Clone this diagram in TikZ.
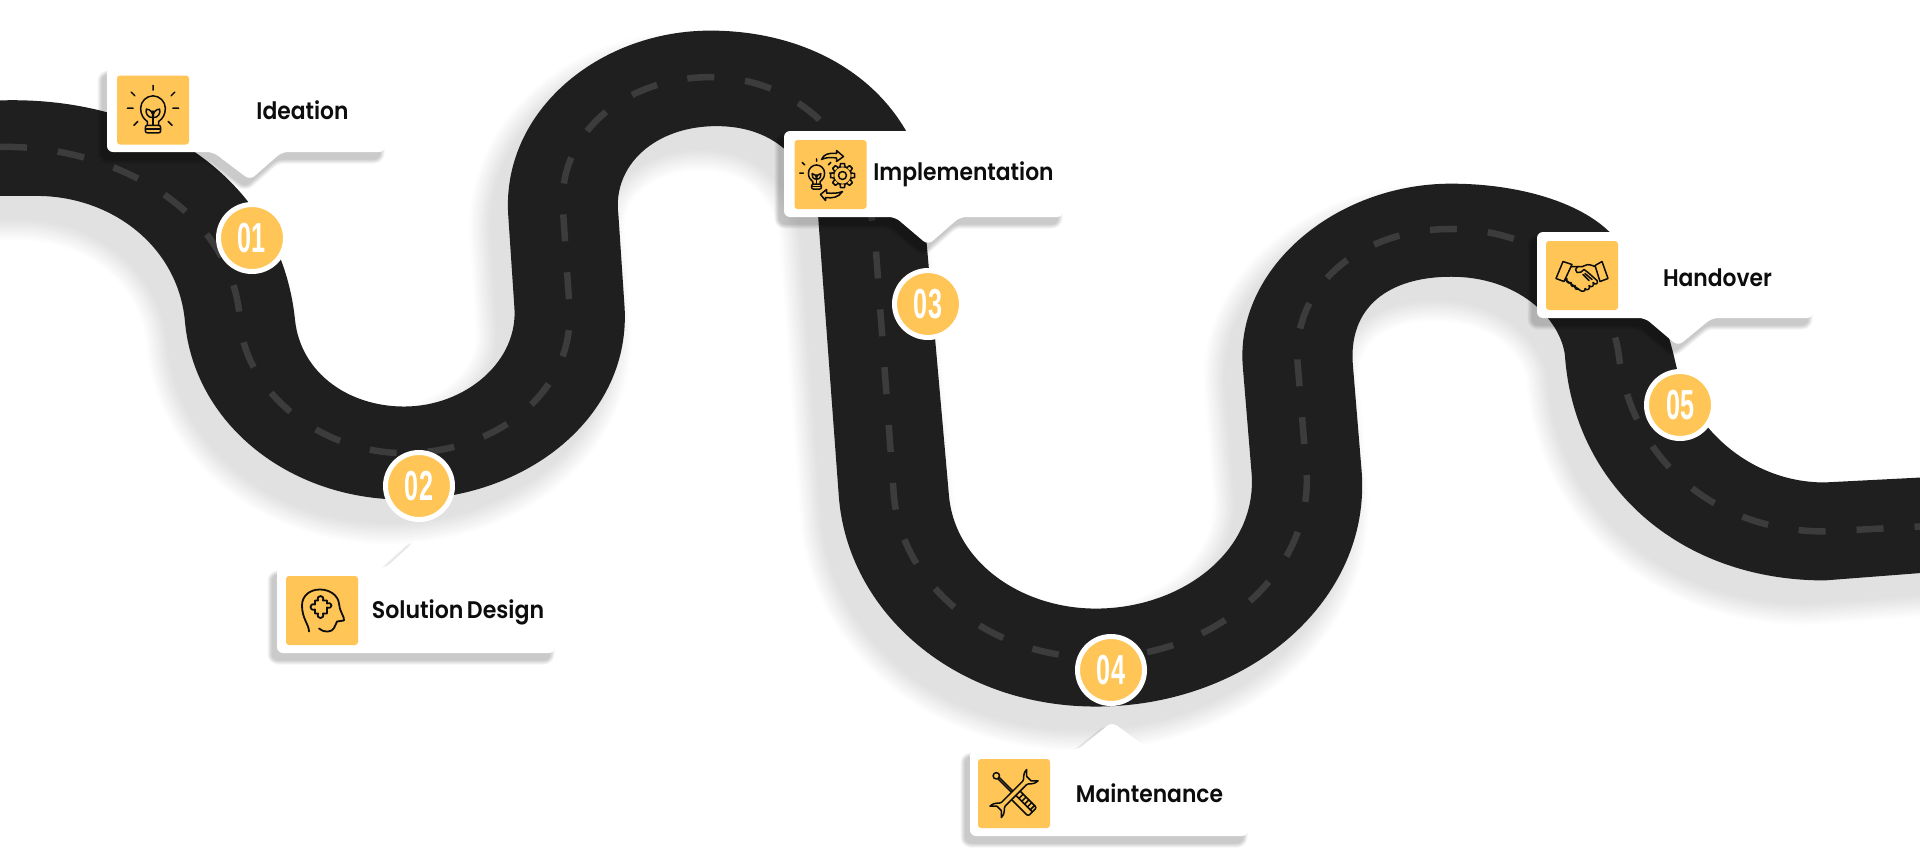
\documentclass[tikz,border=0pt]{standalone}
\usepackage{fontspec}
\setmainfont{Liberation Sans}
\newfontfamily\labfont{Poppins SemiBold}
\definecolor{roadc}{HTML}{1F1F1F}
\definecolor{dashc}{HTML}{3C3C3C}
\definecolor{yel}{HTML}{FFC556}
\definecolor{ink}{HTML}{0D0D0D}
\newcommand{\roadpath}{
 (-40,83) -- (0,82) .. controls (130,78) and (230,150) .. (241,262)
 .. controls (246,305) and (285,332) .. (330,332)
 .. controls (380,332) and (424,295) .. (420,250) -- (415,175)
 .. controls (410,90) and (490,25) .. (580,25)
 .. controls (650,25) and (710,55) .. (740,107)
 .. controls (748,122) and (750,130) .. (752,145) -- (775,405)
 .. controls (780,460) and (835,497) .. (895,497)
 .. controls (965,497) and (1028,450) .. (1022,385) -- (1015,300)
 .. controls (1008,220) and (1090,150) .. (1185,150)
 .. controls (1240,150) and (1290,165) .. (1315,190)
 .. controls (1345,220) and (1360,260) .. (1368,295)
 .. controls (1380,350) and (1430,394) .. (1490,394)
 -- (1568,390) -- (1620,387) -- (1620,465) -- (1568,468) -- (1490,474)
 .. controls (1370,474) and (1285,395) .. (1278,290)
 .. controls (1274,260) and (1240,226) .. (1185,226)
 .. controls (1135,226) and (1100,250) .. (1105,300) -- (1112,385)
 .. controls (1120,490) and (1020,577) .. (895,577)
 .. controls (780,577) and (692,500) .. (685,405) -- (668,175)
 .. controls (666,155) and (650,103) .. (585,103)
 .. controls (535,103) and (500,135) .. (505,175) -- (510,250)
 .. controls (516,340) and (430,408) .. (330,408)
 .. controls (235,408) and (158,345) .. (151,262)
 .. controls (145,200) and (90,160) .. (30,160) -- (-40,160) -- cycle}
\newcommand{\callout}[1]{
 \foreach \w in {9,7,5,3,1}{
  \begin{scope}[shift={(-5,7)},transparency group,opacity=.045]
   \path[fill=black,draw=black,line width=\w pt,rounded corners=6pt,line join=round] #1;
  \end{scope}}
 \path[fill=white,rounded corners=6pt] #1;}
\newcommand{\bulb}{
 \draw[ico] (-6,14) -- (-6,10) .. controls (-10,7) and (-13,3) .. (-13,-4)
  .. controls (-13,-11) and (-7,-17) .. (0,-17) .. controls (7,-17) and (13,-11) .. (13,-4)
  .. controls (13,3) and (10,7) .. (6,10) -- (6,14);
 \draw[ico,rounded corners=2pt] (-8,14) -- (8,14) -- (8,22) -- (-8,22) -- cycle;
 \draw[ico] (-8,18) -- (8,18) (0,14) -- (0,-1);
 \draw[ico] (0,6) .. controls (-6,6) and (-8,1) .. (-7,-3) .. controls (-3,-3) and (0,0) .. (0,6);
 \draw[ico] (0,6) .. controls (6,6) and (8,1) .. (7,-3) .. controls (3,-3) and (0,0) .. (0,6);}
\tikzset{
 ico/.style={draw=ink,line width=1.5pt,line cap=round,line join=round},
 iconbox/.style={fill=yel,rounded corners=3pt,minimum width=72pt,minimum height=69pt,inner sep=0pt},
 badge/.style={circle,fill=yel,draw=white,line width=5pt,minimum size=67pt,inner sep=0pt,text=white,font=\fontsize{42}{42}\selectfont\bfseries},
 lab/.style={inner sep=0pt,text=ink,font=\fontsize{24}{28}\labfont}
}
\newcommand{\numb}[1]{\scalebox{0.6}[1]{#1}}
\begin{document}
\begin{tikzpicture}[x=1pt,y=-1pt]
\useasboundingbox (0,0) rectangle (1920,849);
\fill[white] (0,0) rectangle (1920,849);
\clip (0,0) rectangle (1920,849);
% road shadow
\foreach \i in {1,...,14}{
 \pgfmathsetmacro{\wd}{(15-\i)*3.2}
 \pgfmathsetmacro{\pc}{\i*0.85}
 \begin{scope}[shift={(-16,22)},scale=1.2245]
  \path[fill=black!\pc,draw=black!\pc,line width=\wd pt,line join=round] \roadpath;
 \end{scope}}
% road
\begin{scope}[scale=1.2245]
 \path[fill=roadc] \roadpath;
 \draw[dashc,line width=6.5pt,dash pattern=on 27pt off 31pt]
  (0,120) .. controls (90,118) and (190,170) .. (196,262)
  .. controls (200,320) and (262,370) .. (330,370)
  .. controls (405,370) and (470,320) .. (465,250) -- (460,175)
  .. controls (453,110) and (510,63) .. (580,63)
  .. controls (650,63) and (708,115) .. (715,200) -- (730,405)
  .. controls (737,480) and (810,537) .. (895,537)
  .. controls (990,537) and (1072,470) .. (1067,385) -- (1060,300)
  .. controls (1053,235) and (1110,187) .. (1185,187)
  .. controls (1260,187) and (1315,235) .. (1322,290)
  .. controls (1332,375) and (1400,434) .. (1490,434) -- (1568,430);
\end{scope}
% callouts
\callout{(107,68) -- (385,68) -- (385,152) -- (282,152) -- (250,180) -- (213,152) -- (107,152) -- cycle}
\callout{(277,568) -- (385,568) -- (418,538) -- (455,568) -- (555,568) -- (555,653) -- (277,653) -- cycle}
\callout{(784,131) -- (1063,131) -- (1063,217) -- (960,217) -- (928,245) -- (895,217) -- (784,217) -- cycle}
\callout{(970,750) -- (1077,750) -- (1112,722) -- (1150,750) -- (1248,750) -- (1248,836) -- (970,836) -- cycle}
\callout{(1537,232) -- (1813,232) -- (1813,318) -- (1712,318) -- (1678,346) -- (1645,318) -- (1537,318) -- cycle}
% icon squares
\node[iconbox] (iconone) at (153,110) {};
\node[iconbox] (icontwo) at (322,610.5) {};
\node[iconbox] (iconthree) at (830.5,174.5) {};
\node[iconbox] (iconfour) at (1014,793.5) {};
\node[iconbox] (iconfive) at (1582,275.5) {};
% labels
\node[lab] (labone) at (302.5,110) {\scalebox{0.91}[1]{Ideation}};
\node[lab] (labtwo) at (458,612) {\scalebox{0.92}[1]{Solution\hspace{-2pt} Design}};
\node[lab] (labthree) at (963.5,174) {\scalebox{0.91}[1]{Implementation}};
\node[lab] (labfour) at (1149.5,793) {\scalebox{0.91}[1]{Maintenance}};
\node[lab] (labfive) at (1717.5,278) {\scalebox{0.91}[1]{Handover}};
% icon 1
\begin{scope}[shift={(153,112)},scale=0.95]
 \bulb
 \draw[ico] (0,-23) -- (0,-28) (-19,-17) -- (-23,-21) (19,-17) -- (23,-21)
  (-21,-4) -- (-27,-4) (21,-4) -- (27,-4) (-16,10) -- (-20,14) (16,10) -- (20,14);
\end{scope}
% icon 2
\begin{scope}[shift={(322,610.5)}]
 \draw[ico,line width=1.8pt] (-13,21) .. controls (-13,14) and (-20,8) .. (-20,-5)
  .. controls (-20,-15) and (-12,-21) .. (-2,-21)
  .. controls (8,-21) and (16,-15) .. (17,-7) .. controls (17,0) and (23,7) .. (22,10)
  -- (15,11) .. controls (13,15) and (12,21) .. (6,21) .. controls (2,21) and (-1,20) .. (-3,18);
 \draw[ico,line width=1.8pt] (-7,-10) -- (-4,-10) .. controls (-6,-16) and (3,-16) .. (1,-10) -- (5,-10) -- (5,-7)
  .. controls (11,-9) and (11,-1) .. (5,-3) -- (5,3) -- (1,3) .. controls (3,9) and (-6,9) .. (-4,3) -- (-7,3) -- (-7,-1)
  .. controls (-13,1) and (-13,-8) .. (-7,-6) -- cycle;
\end{scope}
% icon 3
\begin{scope}[shift={(830.5,174.5)}]
 \begin{scope}[shift={(-14,1)},scale=0.62]
  \bulb
  \draw[ico] (-19,-17) -- (-23,-21) (19,-17) -- (23,-21) (-21,-4) -- (-27,-4) (21,-4) -- (27,-4) (0,-23) -- (0,-27);
 \end{scope}
 \begin{scope}[shift={(12,1)}]
  \draw[ico] (0,0) circle[radius=9];
  \draw[ico] (0,0) circle[radius=4];
  \foreach \a in {0,45,...,315}{
   \begin{scope}[rotate=\a]
    \path[fill=yel,ico] (-2.5,-8.8) -- (-2,-12) -- (2,-12) -- (2.5,-8.8);
   \end{scope}}
 \end{scope}
 \draw[ico] (-9,-15) .. controls (-7,-20) and (-2,-22) .. (6,-21) -- (6,-24) -- (13,-18) -- (6,-13) -- (6,-16.5) .. controls (0,-17.5) and (-5,-17) .. (-9,-15) -- cycle;
 \draw[ico] (12,17) .. controls (8,23) and (2,24) .. (-5,23) -- (-5,26) -- (-10,20) -- (-4,15) -- (-4,18.5) .. controls (2,19) and (7,19) .. (12,17) -- cycle;
\end{scope}
% icon 4
\begin{scope}[shift={(1014,793.5)}]
 \begin{scope}[rotate=-45]
  \draw[ico] (-25,0) circle[radius=3.2];
  \draw[ico] (-22,-1) -- (1,-1) (-22,1) -- (1,1);
  \draw[ico,rounded corners=2pt] (1,-6) -- (26,-6) -- (26,6) -- (1,6) -- cycle;
  \draw[ico] (7,-6) -- (7,0) (11,-6) -- (11,0) (15,-6) -- (15,0) (19,-6) -- (19,0) (23,-6) -- (23,0);
  \draw[ico] (1,0) -- (26,0);
 \end{scope}
 \begin{scope}[rotate=45]
  \path[fill=yel,ico] (-15,-2.6) -- (15,-2.6) .. controls (18,-2.6) and (19,-8) .. (26,-8) -- (21,-3) -- (21,3) -- (26,8)
   .. controls (19,8) and (18,2.6) .. (15,2.6) -- (-15,2.6) .. controls (-18,2.6) and (-19,8) .. (-26,8) -- (-21,3) -- (-21,-3) -- (-26,-8)
   .. controls (-19,-8) and (-18,-2.6) .. (-15,-2.6) -- cycle;
 \end{scope}
\end{scope}
% icon 5
\begin{scope}[shift={(1582,275.5)}]
 \draw[ico] (-19,-14) -- (-26,3) -- (-18,6) -- (-10,-11) -- cycle;
 \draw[ico] (20,-14) -- (26,3) -- (18,6) -- (13,-10) -- cycle;
 \draw[ico] (-11,-9) -- (-4,-9) .. controls (-1,-8) and (1,-9) .. (3,-10) .. controls (6,-12) and (10,-10) .. (13,-9);
 \draw[ico] (-4,-9) .. controls (-7,-7) and (-7,-4) .. (-5,-3) .. controls (-2,-2) and (0,-4) .. (2,-6)
  -- (6,-3) -- (15,5) .. controls (17,8) and (13,10) .. (11,7) (11,7) .. controls (13,10) and (9,13) .. (7,10)
  (7,10) .. controls (9,13) and (5,16) .. (3,13) (3,13) .. controls (4,16) and (0,17) .. (-3,14);
 \draw[ico] (-17,4) -- (-3,14);
 \draw[ico] (-15,3) .. controls (-17,6) and (-13,9) .. (-11,7) (-11,7) .. controls (-12,11) and (-8,12) .. (-7,10) (-7,10) .. controls (-8,13) and (-5,15) .. (-3,14);
 \draw[ico] (1,-1) -- (7,5) (3,-2) -- (10,4) ;
\end{scope}
% badges
\node[badge] (badgeone) at (252,238) {\numb{01}};
\node[badge] (badgetwo) at (419,486) {\numb{02}};
\node[badge] (badgethree) at (928,304) {\numb{03}};
\node[badge] (badgefour) at (1111,670) {\numb{04}};
\node[badge] (badgefive) at (1680,405) {\numb{05}};
\end{tikzpicture}
\end{document}
